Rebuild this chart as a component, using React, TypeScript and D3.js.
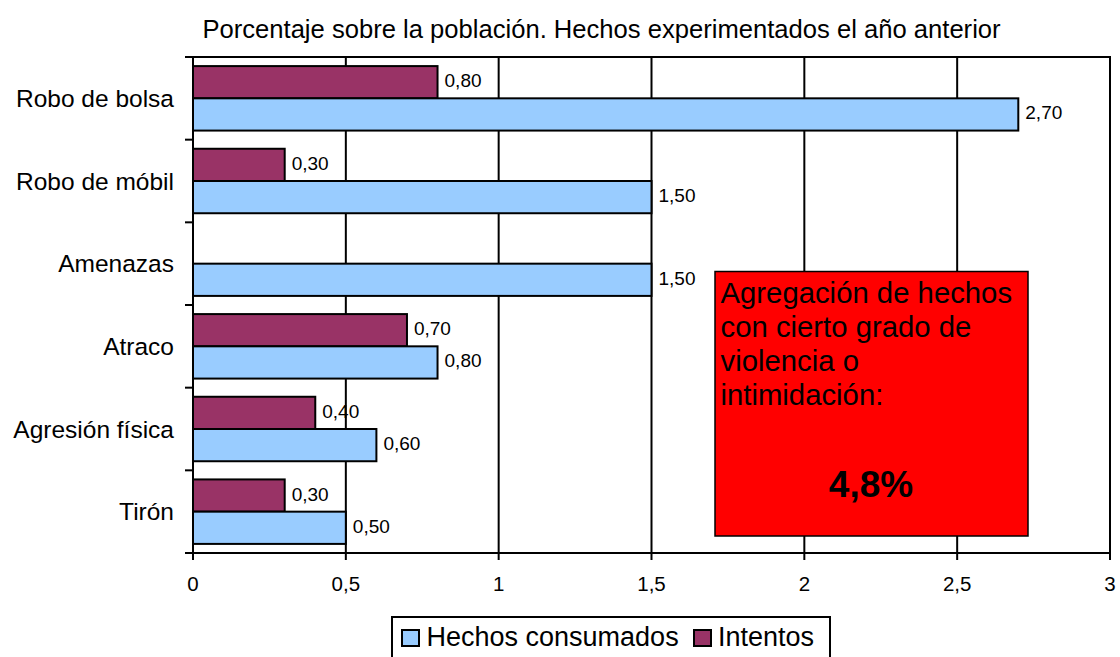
import React from "react";
import * as d3 from "d3";

const categories = ["Robo de bolsa", "Robo de móbil", "Amenazas", "Atraco", "Agresión física", "Tirón"];
const consumados = [2.7, 1.5, 1.5, 0.8, 0.6, 0.5];
const intentos: (number | null)[] = [0.8, 0.3, null, 0.7, 0.4, 0.3];
const xTicks = [0, 0.5, 1, 1.5, 2, 2.5, 3];
const seriesNames = ["Hechos consumados", "Intentos"];
const title = "Porcentaje sobre la población. Hechos experimentados el año anterior";
const boxLines = ["Agregación de hechos", "con cierto grado de", "violencia o", "intimidación:"];
const boxValue = "4,8%";

const W = 1120, H = 657;
const left = 193, right = 1110, top = 57, bottom = 553;
const font = "'Liberation Sans', Arial, sans-serif";
const fmt = (v: number) => v.toFixed(2).replace(".", ",");
const fmtTick = (v: number) => String(v).replace(".", ",");

export default function App() {
  const x = d3.scaleLinear().domain([0, 3]).range([left, right]);
  const y = d3.scaleBand().domain(categories).range([top, bottom]).paddingInner(0.22).paddingOuter(0.11);
  const sub = d3.scaleBand().domain(["int", "con"]).range([0, y.bandwidth()]);
  const bounds = d3.range(categories.length + 1).map((i) => top + (i * (bottom - top)) / categories.length);
  return (
    <svg width={W} height={H} style={{ position: "absolute", left: 0, top: 0 }} fontFamily={font}>
      <rect width={W} height={H} fill="#fff" />
      <text x={601.5} y={38} textAnchor="middle" fontSize={25.6}>{title}</text>
      {xTicks.map((t) => (
        <line key={"g" + t} x1={x(t)} x2={x(t)} y1={top} y2={bottom} stroke="#000" strokeWidth={2} />
      ))}
      <rect x={left} y={top} width={right - left} height={bottom - top} fill="none" stroke="#000" strokeWidth={2} />
      {bounds.map((b, i) => (
        <line key={"yt" + i} x1={left - 8} x2={left} y1={b} y2={b} stroke="#000" strokeWidth={2} />
      ))}
      {xTicks.map((t) => (
        <g key={"xt" + t}>
          <line x1={x(t)} x2={x(t)} y1={bottom} y2={bottom + 7} stroke="#000" strokeWidth={2} />
          <text x={x(t)} y={bottom + 38} textAnchor="middle" fontSize={20.5}>{fmtTick(t)}</text>
        </g>
      ))}
      {categories.map((c, i) => {
        const y0 = y(c)!;
        const iv = intentos[i];
        const cv = consumados[i];
        return (
          <g key={c}>
            <text x={174} y={(bounds[i] + bounds[i + 1]) / 2 + 8.5} textAnchor="end" fontSize={24.5}>{c}</text>
            {iv != null && (
              <g>
                <rect x={x(0)} y={y0 + sub("int")!} width={x(iv) - x(0)} height={sub.bandwidth()} fill="#993366" stroke="#000" strokeWidth={2} />
                <text x={x(iv) + 7} y={y0 + sub("int")! + sub.bandwidth() / 2 + 5} fontSize={19}>{fmt(iv)}</text>
              </g>
            )}
            <rect x={x(0)} y={y0 + sub("con")!} width={x(cv) - x(0)} height={sub.bandwidth()} fill="#99CCFF" stroke="#000" strokeWidth={2} />
            <text x={x(cv) + 7} y={y0 + sub("con")! + sub.bandwidth() / 2 + 5} fontSize={19}>{fmt(cv)}</text>
          </g>
        );
      })}
      <rect x={715} y={271.5} width={313} height={264.5} fill="#FF0000" stroke="#000" strokeWidth={1.5} />
      {boxLines.map((l, i) => (
        <text key={l} x={720.5} y={303 + i * 34} fontSize={29.3}>{l}</text>
      ))}
      <text x={871} y={497} textAnchor="middle" fontSize={37} fontWeight="bold">{boxValue}</text>
      <rect x={392} y={617} width={438} height={50} fill="#fff" stroke="#000" strokeWidth={2} />
      <rect x={402} y={630} width={17} height={16} fill="#99CCFF" stroke="#000" strokeWidth={2} />
      <text x={426.5} y={646} fontSize={27}>{seriesNames[0]}</text>
      <rect x={694} y={630} width={17} height={16} fill="#993366" stroke="#000" strokeWidth={2} />
      <text x={718} y={646} fontSize={27}>{seriesNames[1]}</text>
    </svg>
  );
}
